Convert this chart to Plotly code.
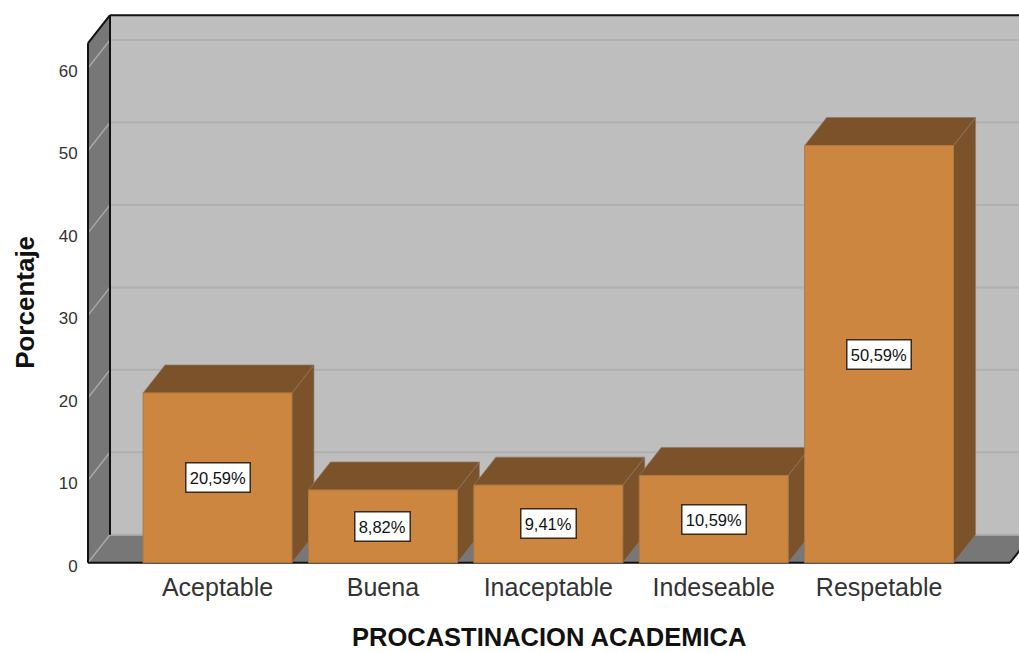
import plotly.graph_objects as go

categories = ["Aceptable", "Buena", "Inaceptable", "Indeseable", "Respetable"]
values = [20.59, 8.82, 9.41, 10.59, 50.59]
labels = ["20,59%", "8,82%", "9,41%", "10,59%", "50,59%"]
y_ticks = [0, 10, 20, 30, 40, 50, 60]
x_title = "PROCASTINACION ACADEMICA"
y_title = "Porcentaje"

W, H = 1019, 653
PX_X = 165.4
PX_Y = 8.25
ORIGIN_X, ORIGIN_Y = 217.5, 563
L, R, T, B = 86, 1019, 10, 571.25
DX = 22 / PX_X
DY = 28 / PX_Y
BAR = 0.9
WALL_LEFT = (88 - ORIGIN_X) / PX_X
WALL_RIGHT = (1010 - ORIGIN_X) / PX_X
WALL_TOP = 66.4

FRONT, DARK = "#CC8640", "#7B5229"
WALL, SIDE, GRID = "#BEBEBE", "#777777", "#B0B0B0"


def poly(points, fill, line=None, width=0):
    path = "M " + " L ".join(f"{x},{y}" for x, y in points) + " Z"
    return dict(type="path", path=path, xref="x", yref="y", layer="below",
                fillcolor=fill, line=dict(color=line or fill, width=width))


def seg(x0, y0, x1, y1, color, width):
    return dict(type="line", x0=x0, y0=y0, x1=x1, y1=y1, xref="x", yref="y",
                layer="below", line=dict(color=color, width=width))


shapes = [
    poly([(WALL_LEFT + DX, DY), (WALL_RIGHT + DX, DY), (WALL_RIGHT + DX, WALL_TOP), (WALL_LEFT + DX, WALL_TOP)], WALL),
    poly([(WALL_LEFT, 0), (WALL_LEFT + DX, DY), (WALL_LEFT + DX, WALL_TOP), (WALL_LEFT, WALL_TOP - DY)], SIDE),
    poly([(WALL_LEFT, 0), (WALL_RIGHT, 0), (WALL_RIGHT + DX, DY), (WALL_LEFT + DX, DY)], SIDE),
]
for t in y_ticks:
    shapes.append(seg(WALL_LEFT + DX, t + DY, WALL_RIGHT + DX, t + DY, GRID, 2))
    shapes.append(seg(WALL_LEFT, t, WALL_LEFT + DX, t + DY, "#A8A8A8", 1.5))
shapes += [
    seg(WALL_LEFT, 0, WALL_RIGHT, 0, "#111111", 2),
    seg(WALL_RIGHT, 0, WALL_RIGHT + DX, DY, "#111111", 2),
    seg(WALL_LEFT, 0, WALL_LEFT, WALL_TOP - DY, "#111111", 2),
    seg(WALL_LEFT + DX, DY, WALL_LEFT + DX, WALL_TOP, "#111111", 2),
    seg(WALL_LEFT, WALL_TOP - DY, WALL_LEFT + DX, WALL_TOP, "#111111", 2),
    seg(WALL_LEFT + DX, WALL_TOP, WALL_RIGHT + DX, WALL_TOP, "#111111", 2),
]
for i, v in enumerate(values):
    x0, x1 = i - BAR / 2, i + BAR / 2
    shapes.append(poly([(x1, 0), (x1 + DX, DY), (x1 + DX, v + DY), (x1, v)], DARK, "#8A7A68", 0.7))
    shapes.append(poly([(x0, v), (x1, v), (x1 + DX, v + DY), (x0 + DX, v + DY)], DARK, "#8A7A68", 0.7))

positions = list(range(len(categories)))
fig = go.Figure(go.Bar(
    x=positions, y=values, width=BAR,
    marker=dict(color=FRONT, line=dict(color="#B07A40", width=1)),
    hoverinfo="skip",
))

annotations = [
    dict(x=i, y=v / 2, xref="x", yref="y", text=lab, showarrow=False,
         font=dict(family="Liberation Sans", size=16.5, color="#111111"),
         width=9.3 * len(lab) + 5, height=26,
         bgcolor="white", bordercolor="#3A2A18", borderwidth=1.5, borderpad=1)
    for i, (v, lab) in enumerate(zip(values, labels))
]
annotations.append(dict(
    xref="paper", yref="paper",
    x=(549 - L) / (R - L), y=(B - 637) / (B - T),
    xanchor="center", yanchor="middle",
    text=f"<b>{x_title}</b>", showarrow=False,
    font=dict(family="Liberation Sans", size=25.5, color="#111111"),
))
annotations.append(dict(
    xref="paper", yref="paper",
    x=(25 - L) / (R - L), y=(B - 303) / (B - T),
    xanchor="center", yanchor="middle",
    text=f"<b>{y_title}</b>", showarrow=False, textangle=-90,
    font=dict(family="Liberation Sans", size=26, color="#111111"),
))

fig.update_layout(
    width=W, height=H, autosize=False,
    margin=dict(l=L, r=W - R, t=T, b=H - B, pad=0),
    paper_bgcolor="white", plot_bgcolor="white",
    showlegend=False, shapes=shapes, annotations=annotations,
    xaxis=dict(
        range=[(L - ORIGIN_X) / PX_X, (R - ORIGIN_X) / PX_X],
        tickmode="array", tickvals=positions, ticktext=categories,
        showgrid=False, zeroline=False, showline=False, ticks="",
        ticklabelstandoff=-1,
        tickfont=dict(family="Liberation Sans", size=25, color="#333333"),
    ),
    yaxis=dict(
        range=[(ORIGIN_Y - B) / PX_Y, (ORIGIN_Y - T) / PX_Y],
        tickmode="array", tickvals=y_ticks, ticktext=[str(t) for t in y_ticks],
        showgrid=False, zeroline=False, showline=False, ticks="outside",
        ticklen=4, tickcolor="rgba(0,0,0,0)", ticklabelshift=3,
        tickfont=dict(family="Liberation Sans", size=17, color="#333333"),
    ),
)

fig.write_html("out.html", config={"displayModeBar": False},
               post_script="document.body.style.margin='0';")
